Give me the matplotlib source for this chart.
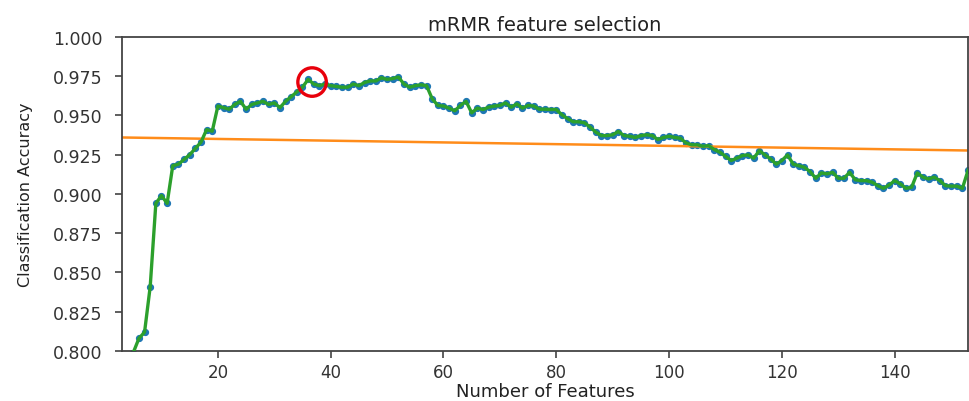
import numpy as np
import matplotlib.pyplot as plt

# number of features (3..153) and accuracy
n_features = np.arange(3, 154)
accuracy = [
    0.740, 0.770, 0.799, 0.808, 0.812, 0.841, 0.894, 0.899, 0.894, 0.918,   # 3-12
    0.919, 0.922, 0.925, 0.929, 0.933, 0.941, 0.940, 0.956, 0.955, 0.954,   # 13-22
    0.957, 0.959, 0.954, 0.957, 0.958, 0.959, 0.957, 0.958, 0.955, 0.959,   # 23-32
    0.962, 0.965, 0.968, 0.973, 0.970, 0.969, 0.970, 0.969, 0.9685, 0.968,  # 33-42
    0.968, 0.970, 0.969, 0.971, 0.972, 0.972, 0.974, 0.973, 0.9735, 0.9745, # 43-52
    0.970, 0.968, 0.969, 0.9695, 0.969, 0.9606, 0.9564, 0.956, 0.9547, 0.953,  # 53-62
    0.9564, 0.959, 0.9517, 0.9547, 0.9538, 0.9553, 0.956, 0.9564, 0.958, 0.9553,  # 63-72
    0.9574, 0.9547, 0.9564, 0.956, 0.954, 0.954, 0.9538, 0.9538, 0.9504, 0.948,  # 73-82
    0.946, 0.946, 0.9453, 0.9426, 0.9394, 0.9372, 0.9372, 0.9377, 0.9398, 0.9372,  # 83-92
    0.9368, 0.936, 0.9372, 0.9377, 0.9372, 0.9347, 0.936, 0.9368, 0.936, 0.9355,  # 93-102
    0.9325, 0.9313, 0.9313, 0.9304, 0.9308, 0.9283, 0.9266, 0.924, 0.9213, 0.9228,  # 103-112
    0.9245, 0.9249, 0.9228, 0.9276, 0.9249, 0.9223, 0.919, 0.9213, 0.9249, 0.919,  # 113-122
    0.918, 0.917, 0.9142, 0.910, 0.9134, 0.9128, 0.9138, 0.910, 0.910, 0.9138,  # 123-132
    0.9091, 0.9085, 0.9085, 0.9075, 0.9053, 0.9036, 0.9057, 0.9085, 0.9064, 0.9036,  # 133-142
    0.9043, 0.9134, 0.9107, 0.9096, 0.9107, 0.9085, 0.9053, 0.905, 0.905, 0.9036,  # 143-152
    0.915,  # 153
]

# orange trend line end points
trend_x = [3, 153]
trend_y = [0.936, 0.9277]

# highlighted best point
best_x = 36.7
best_y = 0.9713

fig = plt.figure(figsize=(9.69, 4.02), dpi=100)
ax = fig.add_axes([0.1259, 0.1244, 0.8731, 0.7811])

ax.plot(n_features, accuracy, 'o', color='#1f77b4', markersize=4.2, zorder=2)
ax.plot(n_features, accuracy, '-', color='#2ca02c', linewidth=2.4, zorder=3)
ax.plot(trend_x, trend_y, '-', color='#ff8c1a', linewidth=1.8, zorder=2)
ax.scatter([best_x], [best_y], s=420, facecolors='none', edgecolors='#e8000b',
           linewidths=2.4, zorder=4)

ax.set_xlim(3, 153)
ax.set_ylim(0.8, 1.0)
ax.set_yticks(np.arange(0.8, 1.0001, 0.025))
ax.set_yticklabels(["%.3f" % v for v in np.arange(0.8, 1.0001, 0.025)])
ax.set_xticks([20, 40, 60, 80, 100, 120, 140])

ax.tick_params(labelsize=12, colors='#333333', length=5, width=1.1)
ax.tick_params(axis='y', labelsize=12.5, pad=9)
for s in ax.spines.values():
    s.set_color('#444444')
    s.set_linewidth(1.3)

ax.set_title("mRMR feature selection", fontsize=14, color='#222222', pad=5)
ax.set_xlabel("Number of Features", fontsize=13, color='#222222', labelpad=1)
ax.set_ylabel("Classification Accuracy", fontsize=11.5, color='#222222',
              labelpad=14)

fig.savefig("out.png", dpi=100)
